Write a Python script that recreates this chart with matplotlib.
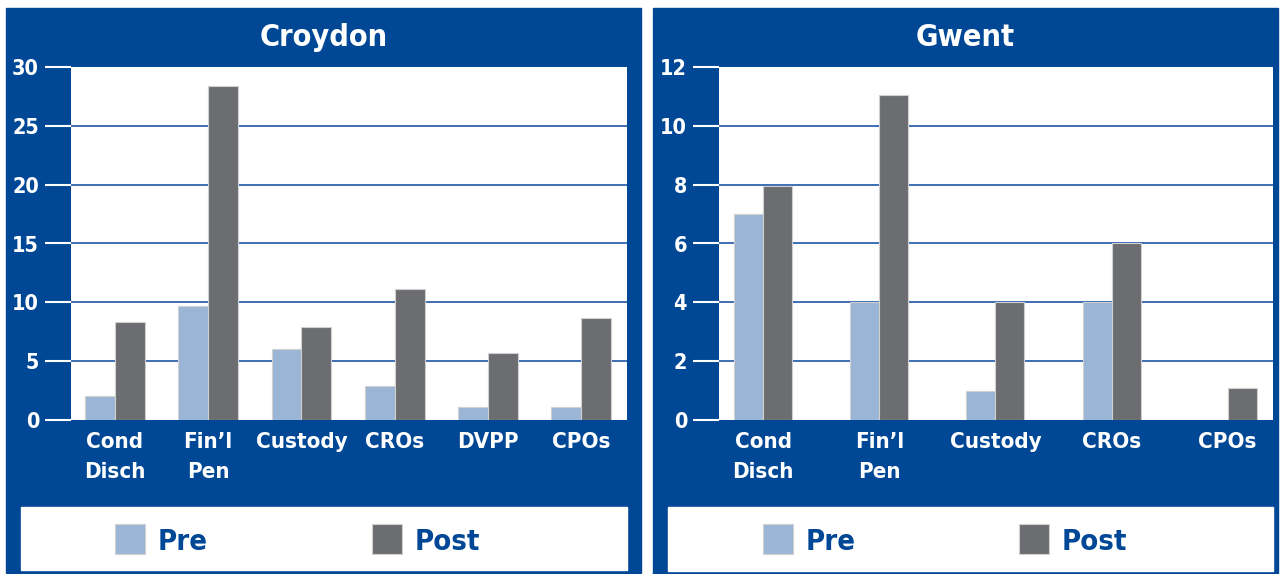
import numpy as np
import matplotlib.pyplot as plt
from matplotlib.patches import Rectangle

# Croydon
croydon_cats = ['Cond\nDisch', 'Fin\u2019l\nPen', 'Custody', 'CROs', 'DVPP', 'CPOs']
croydon_pre = [2.0, 9.7, 6.0, 2.9, 1.1, 1.1]
croydon_post = [8.3, 28.4, 7.9, 11.1, 5.7, 8.7]

# Gwent
gwent_cats = ['Cond\nDisch', 'Fin\u2019l\nPen', 'Custody', 'CROs', 'CPOs']
gwent_pre = [7.0, 4.0, 1.0, 4.0, 0.0]
gwent_post = [7.95, 11.05, 4.0, 6.0, 1.1]

BLUE = '#004896'
PRE = '#9ab5d5'
POST = '#6c6d70'
GRID = '#3d6eb3'
EDGE = '#d0d0d0'

W, H = 1280, 574


def box(l, t, r, b):
    return [l / W, (H - b) / H, (r - l) / W, (b - t) / H]


fig = plt.figure(figsize=(12.8, 5.74), dpi=100)
fig.patch.set_facecolor('white')
plt.rcParams['font.family'] = 'DejaVu Sans'
font = dict(fontweight='bold', fontstretch='condensed')


def panel(l, t, r, b, plot, title, cats, pre, post, ymax, step, width, xlim,
          leg, pre_x, post_x):
    x0, y0, w, h = box(l, t, r, b)
    fig.add_artist(Rectangle((x0, y0), w, h, transform=fig.transFigure,
                             color=BLUE, zorder=0))
    fig.text(x0 + w / 2, (H - 46) / H, title, color='white', fontsize=22,
             ha='center', va='baseline', **font)

    ax = fig.add_axes(box(*plot))
    ax.set_facecolor('white')
    x = np.arange(len(cats))
    for yv in np.arange(step, ymax, step):
        ax.axhline(yv, color=GRID, lw=1.4, zorder=1)
    ax.bar(x - width / 2, pre, width, color=PRE, edgecolor=EDGE, lw=0.8, zorder=2)
    ax.bar(x + width / 2, post, width, color=POST, edgecolor=EDGE, lw=0.8, zorder=2)
    ax.set_xlim(*xlim)
    ax.set_ylim(0, ymax)
    ax.set_yticks(np.arange(0, ymax + step / 2, step))
    ax.set_xticks(x)
    ax.set_xticklabels(cats, linespacing=1.6)
    for s in ax.spines.values():
        s.set_visible(False)
    ax.tick_params(axis='y', colors='white', length=19, width=1.5, pad=4,
                   labelsize=15.5)
    ax.tick_params(axis='x', colors='white', length=0, pad=9, labelsize=16)
    for lab in ax.get_xticklabels() + ax.get_yticklabels():
        lab.set_fontweight('bold')
        lab.set_fontstretch('condensed')

    lx0, ly0, lw_, lh = box(*leg)
    fig.add_artist(Rectangle((lx0, ly0), lw_, lh, transform=fig.transFigure,
                             color='white', zorder=1))
    for px, lab, col in [(pre_x, 'Pre', PRE), (post_x, 'Post', POST)]:
        fig.add_artist(Rectangle(box(px, 524, px + 30, 554)[:2], 30 / W, 30 / H,
                                 transform=fig.transFigure, facecolor=col,
                                 edgecolor=EDGE, lw=0.8, zorder=2))
        fig.text((px + 43) / W, (H - 550) / H, lab, color=BLUE, fontsize=21,
                 ha='left', va='baseline', **font)


panel(6, 8, 641, 573, (71, 67, 627, 420), 'Croydon', croydon_cats,
      croydon_pre, croydon_post, 30, 5, 0.32, (-0.47, 5.49),
      (21, 507, 627, 570), 115, 372)
panel(653, 8, 1278, 574, (719, 67, 1273, 420), 'Gwent', gwent_cats,
      gwent_pre, gwent_post, 12, 2, 0.25, (-0.38, 4.39),
      (668, 507, 1273, 571), 763, 1019)

fig.savefig('out.png', dpi=100, facecolor='white')
